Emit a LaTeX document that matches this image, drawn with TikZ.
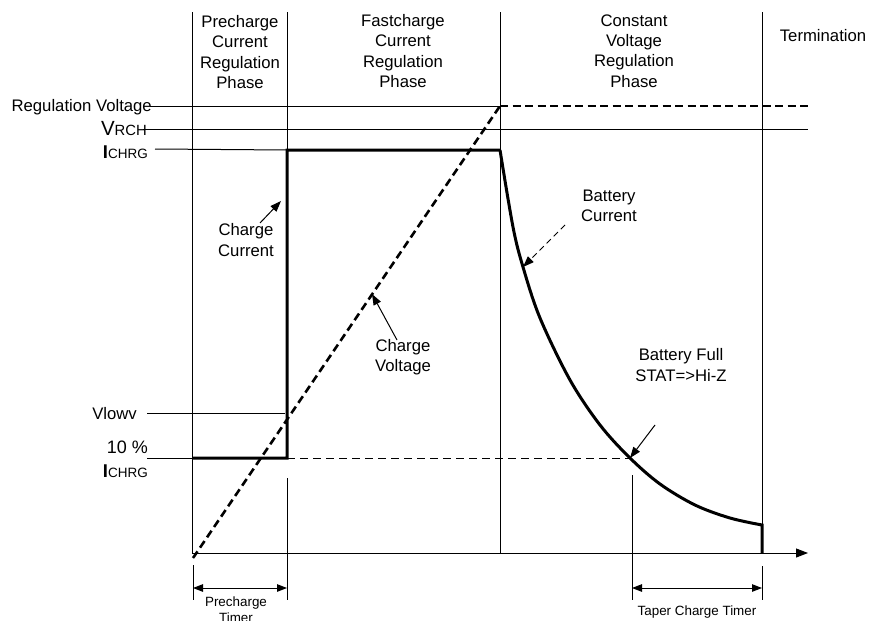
\documentclass[tikz,border=0pt]{standalone}
\usepackage{fontspec}
\setmainfont{Liberation Sans}
\usetikzlibrary{arrows.meta}
\begin{document}
\begin{tikzpicture}[x=1pt,y=-1pt,
  thinln/.style={line width=1pt},
  thickln/.style={line width=3pt},
  thickdash/.style={line width=2.6pt,dash pattern=on 8pt off 4.5pt},
  thindash/.style={line width=1pt,dash pattern=on 8pt off 5pt},
  tip/.style={-{Triangle[length=11pt,width=8pt]}},
  dimtip/.style={{Triangle[length=10pt,width=7.5pt]}-{Triangle[length=10pt,width=7.5pt]}},
  lab/.style={font=\fontsize{16.7}{20.3}\selectfont,align=center,inner sep=0pt},
  small/.style={font=\fontsize{13.4}{16}\selectfont,align=center,inner sep=0pt}]

\useasboundingbox (0,0) rectangle (870,621);

% key coordinates
\coordinate (o)    at (192,553);
\coordinate (xend) at (808,553);
\coordinate (p1)   at (287,458);
\coordinate (p2)   at (287,150);
\coordinate (f2)   at (500,150);
\coordinate (cvtop) at (500,106);
\coordinate (full) at (630,458);

% phase separators
\draw[thinln] (192,12) -- (o);
\draw[thinln] (287,12) -- (p1);
\draw[thinln] (500,12) -- (500,553);
\draw[thinln] (762,12) -- (762,553);

% time axis
\draw[thinln,-{Triangle[length=12pt,width=9pt]}] (o) -- (xend);

% level lines
\draw[thinln] (150,106) -- (cvtop);
\draw[thickdash] (cvtop) -- (808,106);
\draw[thinln] (143,129) -- (808,129);
\draw[thinln] (155,149) -- (p2);
\draw[thinln] (147,413) -- (285,413);
\draw[thinln] (147,458) -- (192,458);
\draw[thindash] (p1) -- (full);

% charge voltage ramp
\draw[thickdash] (193,558) -- (cvtop);

% charge current profile
\draw[thickln,line join=miter] (192,458) -- (p1) -- (p2) -- (f2)
  plot[smooth,tension=0.55] coordinates {(500,150) (513,227) (523,267) (540,318) (570,380) (600,425) (630,458) (660,484) (695,505) (730,518) (762,525)}
  -- (762,553);

% timer markers
\draw[thinln] (193,565) -- (193,600);
\draw[thinln] (287,478) -- (287,600);
\draw[thinln] (632,475) -- (632,600);
\draw[thinln] (762,566) -- (762,600);
\draw[thinln,dimtip] (193,588) -- (287,588);
\draw[thinln,dimtip] (632,588) -- (762,588);

% phase titles
\node[lab] (ph1) at (240,52) {Precharge\\Current\\Regulation\\Phase};
\node[lab] (ph2) at (403,51) {Fastcharge\\Current\\Regulation\\Phase};
\node[lab] (ph3) at (634,51) {Constant\\Voltage\\Regulation\\Phase};
\node[lab,anchor=base] (ph4) at (823,41) {Termination};

% level labels
\node[lab,anchor=base east] (lreg) at (152,111) {Regulation Voltage};
\node[inner sep=0pt,anchor=base east] (lrch) at (147,135)
  {{\fontsize{20.5}{22}\selectfont V}{\fontsize{14.8}{16}\selectfont RCH}};
\node[inner sep=0pt,anchor=base east] (lchrg) at (148,158)
  {{\fontsize{18.5}{20}\selectfont\bfseries I}{\fontsize{13.5}{16}\selectfont CHRG}};
\node[lab,anchor=base east] (llow) at (137,419) {Vlowv};
\node[inner sep=0pt,anchor=base east,font=\fontsize{18}{20}\selectfont] (lten) at (148,453) {10 \%};
\node[inner sep=0pt,anchor=base east] (lchrg2) at (148,477)
  {{\fontsize{18.5}{20}\selectfont\bfseries I}{\fontsize{13.5}{16}\selectfont CHRG}};

% callouts
\node[lab] (ccur) at (246,240) {Charge\\Current};
\coordinate (ccurtip) at (281,201);
\draw[thinln,tip] (260,223) -- (ccurtip);

\node[lab] (cvol) at (403,357) {Charge\\Voltage};
\coordinate (cvoltip) at (372,294);
\draw[thinln,tip] (397,340) -- (cvoltip);

\node[lab] (bcur) at (609,206) {Battery\\Current};
\coordinate (bcurtip) at (523,267);
\draw[thinln,dash pattern=on 6pt off 4pt,tip] (565,225) -- (bcurtip);

\node[lab] (bfull) at (681,365) {Battery Full\\STAT=>Hi-Z};
\draw[thinln,tip] (655,425) -- (full);

% timer labels
\node[small,anchor=north] (tpre) at (236,597) {Precharge\\Timer};
\node[small,anchor=base] (ttap) at (697,615) {Taper Charge Timer};
\end{tikzpicture}
\end{document}
